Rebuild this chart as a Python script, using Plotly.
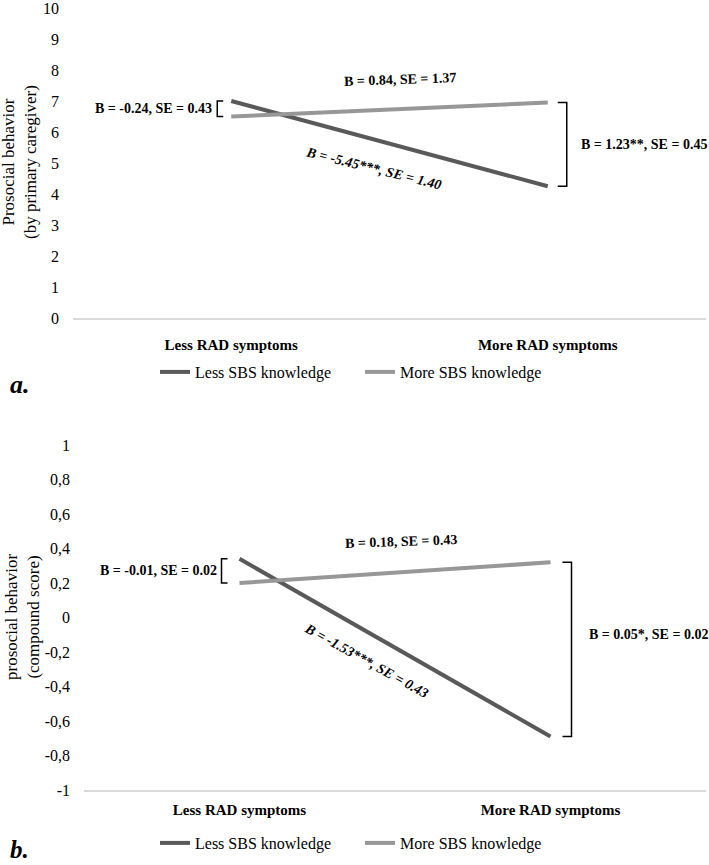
import plotly.graph_objects as go

# ---- data ----
categories = ["Less RAD symptoms", "More RAD symptoms"]
series_names = ["Less SBS knowledge", "More SBS knowledge"]

a_less = [7.0, 4.25]
a_more = [6.5, 6.95]
b_less = [0.34, -0.69]
b_more = [0.20, 0.32]

a_ticks = [0, 1, 2, 3, 4, 5, 6, 7, 8, 9, 10]
b_tickvals = [-1, -0.8, -0.6, -0.4, -0.2, 0, 0.2, 0.4, 0.6, 0.8, 1]
b_ticktext = ["-1", "-0,8", "-0,6", "-0,4", "-0,2", "0", "0,2", "0,4", "0,6", "0,8", "1"]

a_labels = {
    "left": "B = -0.24, SE = 0.43",
    "more": "B = 0.84, SE = 1.37",
    "less": "B = -5.45***, SE = 1.40",
    "right": "B = 1.23**, SE = 0.45",
}
b_labels = {
    "left": "B = -0.01, SE = 0.02",
    "more": "B = 0.18, SE = 0.43",
    "less": "B = -1.53***, SE = 0.43",
    "right": "B = 0.05*, SE = 0.02",
}

W, H = 709, 865
FONT = "Liberation Serif, Times New Roman, serif"
DARK = "#595959"
LIGHT = "#979797"
AXIS = "#d9d9d9"

def px(v):
    return v / W

def py(v):
    return 1 - v / H

fig = go.Figure()

fig.add_trace(go.Scatter(x=categories, y=a_less, mode="lines", name=series_names[0],
                         line=dict(color=DARK, width=4), xaxis="x", yaxis="y", legend="legend"))
fig.add_trace(go.Scatter(x=categories, y=a_more, mode="lines", name=series_names[1],
                         line=dict(color=LIGHT, width=4), xaxis="x", yaxis="y", legend="legend"))
fig.add_trace(go.Scatter(x=categories, y=b_less, mode="lines", name=series_names[0],
                         line=dict(color=DARK, width=4), xaxis="x2", yaxis="y2", legend="legend2"))
fig.add_trace(go.Scatter(x=categories, y=b_more, mode="lines", name=series_names[1],
                         line=dict(color=LIGHT, width=4), xaxis="x2", yaxis="y2", legend="legend2"))

xcommon = dict(type="category", range=[-0.5, 1.5], showgrid=False, zeroline=False,
               showline=True, linecolor=AXIS, linewidth=1.5, ticks="",
               tickfont=dict(family=FONT, size=15, color="black", weight="bold"),
               fixedrange=True, automargin=False)
ycommon = dict(showgrid=False, zeroline=False, showline=False, ticks="",
               tickfont=dict(family=FONT, size=16, color="black"),
               ticklabelstandoff=13, ticklabeloverflow="allow",
               fixedrange=True, automargin=False)

legend_common = dict(orientation="h", x=px(155), xanchor="left", yanchor="middle",
                     xref="container", yref="container",
                     font=dict(family=FONT, size=16, color="black"), bgcolor="rgba(0,0,0,0)",
                     entrywidth=160, entrywidthmode="pixels", itemwidth=30)

fig.update_layout(
    width=W, height=H,
    margin=dict(l=0, r=0, t=0, b=0, autoexpand=False),
    paper_bgcolor="white", plot_bgcolor="white",
    font=dict(family=FONT, color="black"),
    showlegend=True,
    xaxis=dict(domain=[px(73), px(706)], anchor="y", ticklabelstandoff=12, **xcommon),
    yaxis=dict(domain=[py(318), py(8)], anchor="x", range=[0, 10],
               tickvals=a_ticks, **ycommon),
    xaxis2=dict(domain=[px(84), px(706)], anchor="y2", ticklabelstandoff=5, **xcommon),
    yaxis2=dict(domain=[py(790), py(445)], anchor="x2", range=[-1, 1],
                tickvals=b_tickvals, ticktext=b_ticktext, **ycommon),
    legend=dict(y=py(372), **legend_common),
    legend2=dict(y=py(843), **legend_common),
)

ann_font = dict(family=FONT, size=14, color="black")

def add_panel(xr, yr, less, more, labels, left_off, right_off, less_pos, more_pos,
              less_angle, more_angle, right_gap, right_yshift):
    # brackets (pixel x offsets relative to category centers, data y)
    l0, l1 = left_off
    fig.add_shape(type="path", xref=xr, yref=yr, xsizemode="pixel", xanchor=categories[0],
                  path=f"M {l1},{less[0]} L {l0},{less[0]} L {l0},{more[0]} L {l1},{more[0]}",
                  line=dict(color="black", width=1.5))
    r0, r1 = right_off
    fig.add_shape(type="path", xref=xr, yref=yr, xsizemode="pixel", xanchor=categories[1],
                  path=f"M {r0},{more[1]} L {r1},{more[1]} L {r1},{less[1]} L {r0},{less[1]}",
                  line=dict(color="black", width=1.5))
    # labels
    fig.add_annotation(xref=xr, yref=yr, x=categories[0], y=(less[0] + more[0]) / 2,
                       xshift=l0 - 3, xanchor="right", yanchor="middle", showarrow=False,
                       text=f"<b>{labels['left']}</b>", font=ann_font)
    fig.add_annotation(xref=xr, yref=yr, x=categories[1], y=(less[1] + more[1]) / 2,
                       xshift=r1 + right_gap, yshift=right_yshift, xanchor="left", yanchor="middle",
                       showarrow=False, text=f"<b>{labels['right']}</b>", font=ann_font)
    fig.add_annotation(xref=xr, yref=yr, x=more_pos[0], y=more_pos[1], showarrow=False,
                       textangle=more_angle, text=f"<b>{labels['more']}</b>", font=ann_font)
    fig.add_annotation(xref=xr, yref=yr, x=less_pos[0], y=less_pos[1], showarrow=False,
                       textangle=less_angle, text=f"<b><i>{labels['less']}</i></b>", font=ann_font)

add_panel("x", "y", a_less, a_more, a_labels, (-14, -8), (10, 19),
          (0.451, 4.81), (0.533, 7.69), 14, -2, 12, 0)
add_panel("x2", "y2", b_less, b_more, b_labels, (-18, -12), (12, 21),
          (0.407, -0.249), (0.519, 0.44), 29, -2, 15, 15)

# axis titles
fig.add_annotation(xref="paper", yref="paper", x=px(19), y=py(162), showarrow=False,
                   xanchor="center", yanchor="middle",
                   textangle=-90, text="Prosocial behavior<br>(by primary caregiver)",
                   font=dict(family=FONT, size=17, color="black"))
fig.add_annotation(xref="paper", yref="paper", x=px(22), y=py(617), showarrow=False,
                   xanchor="center", yanchor="middle",
                   textangle=-90, text="prosocial behavior<br>(compound score)",
                   font=dict(family=FONT, size=17, color="black"))

# panel letters
fig.add_annotation(xref="paper", yref="paper", x=px(8), y=py(384), xanchor="left",
                   yanchor="middle", showarrow=False, text="<b><i>a.</i></b>",
                   font=dict(family=FONT, size=26, color="black"))
fig.add_annotation(xref="paper", yref="paper", x=px(8), y=py(849), xanchor="left",
                   yanchor="middle", showarrow=False, text="<b><i>b.</i></b>",
                   font=dict(family=FONT, size=25, color="black"))

fig.write_html("out.html", config={"displayModeBar": False},
               post_script="document.body.style.margin='0px';")
